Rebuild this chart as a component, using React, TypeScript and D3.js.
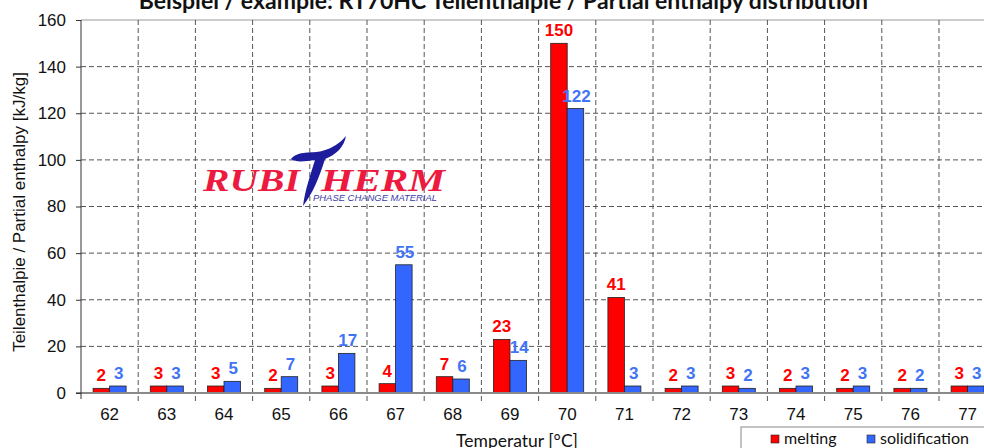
import * as d3 from 'd3';
import React, { useRef, useEffect } from 'react';

const temps = ['62', '63', '64', '65', '66', '67', '68', '69', '70', '71', '72', '73', '74', '75', '76', '77'];
const melting = [2, 3, 3, 2, 3, 4, 7, 23, 150, 41, 2, 3, 2, 2, 2, 3];
const solidification = [3, 3, 5, 7, 17, 55, 6, 14, 122, 3, 3, 2, 3, 3, 2, 3];
const yTicks = [0, 20, 40, 60, 80, 100, 120, 140, 160];

const RED = '#ff0000';
const BLUE = '#3366ff';
const BLUE_TXT = '#4174f5';
const ARIAL = 'Liberation Sans, Arial, sans-serif';
const CALIBRI = 'Lato, sans-serif';

function App() {
  const svgRef = useRef(null);

  useEffect(() => {
    const width = 984,
      height = 448;
    const margin = { top: 20, left: 81, bottom: 55 };
    const band = 57.2;
    const plotW = band * temps.length;
    const y0 = height - margin.bottom;

    const svg = d3.select(svgRef.current).attr('width', width).attr('height', height);
    svg.selectAll('*').remove();

    const x = d3
      .scaleBand()
      .domain(temps)
      .range([margin.left, margin.left + plotW])
      .paddingInner(0)
      .paddingOuter(0);

    const y = d3.scaleLinear().domain([0, 160]).range([y0, margin.top]);

    // horizontal grid
    svg
      .append('g')
      .selectAll('line')
      .data(yTicks.filter((t) => t > 0 && t < 160))
      .join('line')
      .attr('x1', margin.left)
      .attr('x2', margin.left + plotW)
      .attr('y1', (d) => y(d))
      .attr('y2', (d) => y(d))
      .attr('stroke', '#555')
      .attr('stroke-width', 1)
      .attr('stroke-dasharray', '5,3');

    // top border
    svg
      .append('line')
      .attr('x1', margin.left)
      .attr('x2', margin.left + plotW)
      .attr('y1', y(160))
      .attr('y2', y(160))
      .attr('stroke', '#999');

    // vertical grid / x ticks
    svg
      .append('g')
      .selectAll('line')
      .data(temps.slice(1))
      .join('line')
      .attr('x1', (d) => x(d))
      .attr('x2', (d) => x(d))
      .attr('y1', y(160))
      .attr('y2', y0 + 8)
      .attr('stroke', '#555')
      .attr('stroke-dasharray', '5,3');

    // logo
    const logo = svg.append('g');
    logo
      .append('text')
      .attr('x', 203)
      .attr('y', 191)
      .attr('textLength', 97)
      .attr('lengthAdjust', 'spacingAndGlyphs')
      .attr('font-family', 'Liberation Serif')
      .attr('font-style', 'italic')
      .attr('font-weight', 'bold')
      .attr('font-size', 32)
      .attr('fill', '#ec1a3f')
      .text('RUBI');
    logo
      .append('text')
      .attr('x', 321)
      .attr('y', 191)
      .attr('textLength', 124)
      .attr('lengthAdjust', 'spacingAndGlyphs')
      .attr('font-family', 'Liberation Serif')
      .attr('font-style', 'italic')
      .attr('font-weight', 'bold')
      .attr('font-size', 32)
      .attr('fill', '#ec1a3f')
      .text('HERM');
    logo
      .append('path')
      .attr('d', 'M291,159 C298,150 312,154 322,151 C333,148 340,143 346,136 C344,147 336,155 325,159 C319,178 313,193 303,206 C305,190 311,173 315,160 C305,161 297,163 291,159 Z')
      .attr('fill', '#1c1c9c');
    logo
      .append('text')
      .attr('x', 313)
      .attr('y', 201)
      .attr('textLength', 124)
      .attr('lengthAdjust', 'spacingAndGlyphs')
      .attr('font-family', ARIAL)
      .attr('font-style', 'italic')
      .attr('font-size', 9)
      .attr('fill', '#3a3aa8')
      .text('PHASE CHANGE MATERIAL');

    // bars
    const bw = 16.5;
    const groups = svg
      .append('g')
      .selectAll('g')
      .data(temps)
      .join('g')
      .attr('transform', (d) => 'translate(' + (x(d) + x.bandwidth() / 2) + ',0)');

    groups
      .append('rect')
      .attr('x', -bw)
      .attr('width', bw)
      .attr('y', (d, i) => y(melting[i]))
      .attr('height', (d, i) => y0 - y(melting[i]))
      .attr('fill', RED)
      .attr('stroke', '#222')
      .attr('stroke-width', 0.8);

    groups
      .append('rect')
      .attr('x', 0)
      .attr('width', bw)
      .attr('y', (d, i) => y(solidification[i]))
      .attr('height', (d, i) => y0 - y(solidification[i]))
      .attr('fill', BLUE)
      .attr('stroke', '#222')
      .attr('stroke-width', 0.8);

    groups
      .append('text')
      .attr('x', -bw / 2)
      .attr('y', (d, i) => y(melting[i]) - 7)
      .attr('text-anchor', 'middle')
      .attr('font-family', ARIAL)
      .attr('font-weight', 'bold')
      .attr('font-size', 17)
      .attr('fill', RED)
      .text((d, i) => melting[i]);

    groups
      .append('text')
      .attr('x', bw / 2 + 1)
      .attr('y', (d, i) => y(solidification[i]) - 7)
      .attr('text-anchor', 'middle')
      .attr('font-family', ARIAL)
      .attr('font-weight', 'bold')
      .attr('font-size', 17)
      .attr('fill', BLUE_TXT)
      .text((d, i) => solidification[i]);

    // x axis line
    svg
      .append('line')
      .attr('x1', margin.left - 5)
      .attr('x2', margin.left + plotW)
      .attr('y1', y0)
      .attr('y2', y0)
      .attr('stroke', '#8a8a8a')
      .attr('stroke-width', 2);

    // y axis
    const yAxis = svg
      .append('g')
      .attr('transform', 'translate(' + margin.left + ',0)')
      .call(d3.axisLeft(y).tickValues(yTicks).tickSize(5).tickPadding(10));
    yAxis.attr('font-family', ARIAL).attr('font-size', 17);
    yAxis.select('.domain').attr('stroke', '#333').attr('d', 'M0,' + y(160) + 'V' + (y0 + 6));
    yAxis.selectAll('.tick line').attr('stroke', '#333');
    yAxis.selectAll('text').attr('fill', '#111');

    // x labels
    svg
      .append('g')
      .selectAll('text')
      .data(temps)
      .join('text')
      .attr('x', (d) => x(d) + x.bandwidth() / 2)
      .attr('y', 420)
      .attr('text-anchor', 'middle')
      .attr('font-family', ARIAL)
      .attr('font-size', 17)
      .attr('fill', '#111')
      .text((d) => d);

    // axis titles
    svg
      .append('text')
      .attr('transform', 'translate(25,212) rotate(-90)')
      .attr('text-anchor', 'middle')
      .attr('font-family', ARIAL)
      .attr('font-size', 17)
      .attr('fill', '#111')
      .text('Teilenthalpie / Partial enthalpy [kJ/kg]');

    svg
      .append('text')
      .attr('x', 517)
      .attr('y', 447)
      .attr('text-anchor', 'middle')
      .attr('font-family', CALIBRI)
      .attr('font-size', 17.5)
      .attr('fill', '#111')
      .text('Temperatur [°C]');

    svg
      .append('text')
      .attr('x', 508)
      .attr('y', 9)
      .attr('text-anchor', 'middle')
      .attr('font-family', CALIBRI)
      .attr('font-weight', 'bold')
      .attr('font-size', 23)
      .attr('fill', '#111')
      .text('Beispiel / example: RT70HC Teilenthalpie / Partial enthalpy distribution*');

    // legend
    const lg = svg.append('g');
    lg.append('rect')
      .attr('x', 741)
      .attr('y', 427)
      .attr('width', 260)
      .attr('height', 40)
      .attr('fill', 'white')
      .attr('stroke', '#888');
    const items = [
      { name: 'melting', color: RED, x: 771 },
      { name: 'solidification', color: BLUE, x: 867 },
    ];
    items.forEach((it) => {
      lg.append('rect')
        .attr('x', it.x)
        .attr('y', 435)
        .attr('width', 8)
        .attr('height', 8)
        .attr('fill', it.color)
        .attr('stroke', '#222')
        .attr('stroke-width', 0.6);
      lg.append('text')
        .attr('x', it.x + 13)
        .attr('y', 444)
        .attr('font-family', CALIBRI)
        .attr('font-size', 16)
        .attr('fill', '#111')
        .text(it.name);
    });
  }, []);

  return (
    <>
      <svg ref={svgRef} style={{ position: 'absolute', left: 0, top: 0 }}></svg>
    </>
  );
}

export default App;
